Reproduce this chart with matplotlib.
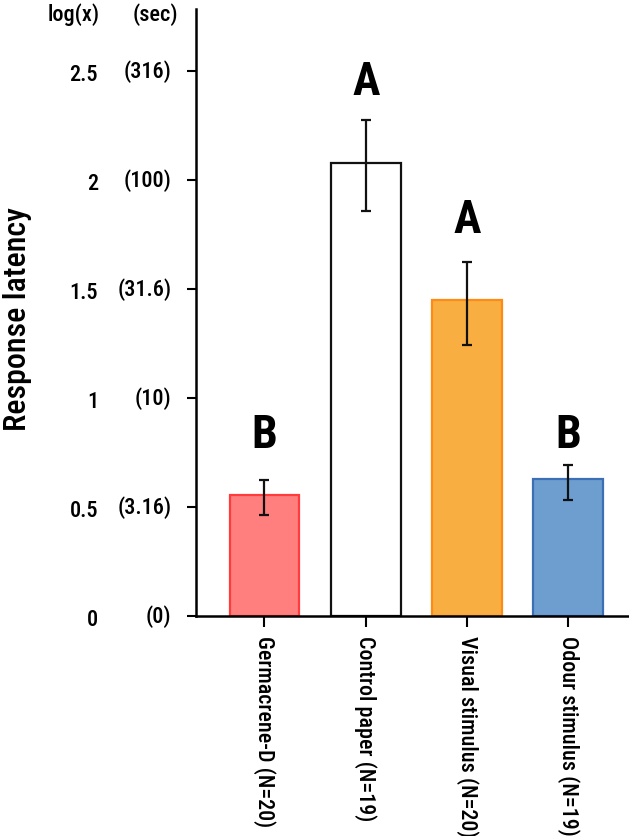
import matplotlib
matplotlib.use('Agg')
import matplotlib.pyplot as plt
from matplotlib import font_manager
import numpy as np

categories = ['Germacrene-D (N=20)', 'Control paper (N=19)', 'Visual stimulus (N=20)', 'Odour stimulus (N=19)']
means = [0.555, 2.08, 1.45, 0.628]
err_low = [0.463, 1.856, 1.245, 0.532]
err_high = [0.624, 2.278, 1.625, 0.693]
letters = ['B', 'A', 'A', 'B']
letter_y = [0.835, 2.456, 1.82, 0.835]
log_ticks = [0, 0.5, 1, 1.5, 2, 2.5]
log_labels = ['0', '0.5', '1', '1.5', '2', '2.5']
sec_labels = ['(0)', '(3.16)', '(10)', '(31.6)', '(100)', '(316)']
fill_colors = ['#FF7F7F', '#FFFFFF', '#F9AE42', '#6E9ED0']
edge_colors = ['#FF3B3B', '#111111', '#FF8A14', '#3C6FB3']

available = {f.name for f in font_manager.fontManager.ttflist}
font = 'DejaVu Sans'
for cand in ['Roboto Condensed', 'Liberation Sans Narrow', 'Open Sans Condensed', 'DejaVu Sans Condensed', 'Roboto']:
    if cand in available:
        font = cand
        break
plt.rcParams['font.family'] = [font, 'DejaVu Sans']
TW = 'medium'

W, H = 629, 837
fig = plt.figure(figsize=(W / 100, H / 100), dpi=100)
ax = fig.add_axes([196 / W, 1 - 617 / H, (628 - 196) / W, (617 - 10) / H])

x = np.arange(len(categories))
means_a = np.array(means)
yerr = [means_a - np.array(err_low), np.array(err_high) - means_a]
ax.bar(x, means, width=0.69, color=fill_colors, edgecolor=edge_colors, linewidth=1.6, zorder=2)
ax.errorbar(x, means, yerr=yerr, fmt='none', ecolor='#111111', elinewidth=1.6,
            capsize=3.8, capthick=1.6, zorder=3)

for xi, lt, ly in zip(x, letters, letter_y):
    ax.text(xi, ly, lt, ha='center', va='center', fontsize=33, fontweight='bold', color='black')

ax.set_xlim(-0.676, 3.59)
ax.set_ylim(0, 2.785)
for s in ['top', 'right']:
    ax.spines[s].set_visible(False)
for s in ['left', 'bottom']:
    ax.spines[s].set_linewidth(1.8)

ax.set_yticks(log_ticks)
ax.set_yticklabels(log_labels, fontsize=16, fontweight=TW)
ax.tick_params(axis='y', direction='out', length=6.5, width=1.5, pad=64)
ax.set_xticks(x)
ax.set_xticklabels(categories, rotation=270, fontsize=15.8, fontweight=TW, ha='center', va='top')
ax.tick_params(axis='x', direction='out', length=8, width=1.5, pad=6)

ytr = ax.get_yaxis_transform()
for v, lab in zip(log_ticks, sec_labels):
    ax.annotate(lab, xy=(0, v), xycoords=ytr, xytext=(-17.5, 0), textcoords='offset points',
                ha='right', va='center', fontsize=16, fontweight=TW, annotation_clip=False)

fig.text(100 / W, 1 - 15 / H, 'log(x)', ha='right', va='center', fontsize=16, fontweight=TW)
fig.text(178 / W, 1 - 15 / H, '(sec)', ha='right', va='center', fontsize=16, fontweight=TW)
fig.text(18 / W, 1 - 319 / H, 'Response latency', rotation=90, ha='center', va='center',
         fontsize=23, fontweight=TW)

fig.savefig('out.png', dpi=100)
